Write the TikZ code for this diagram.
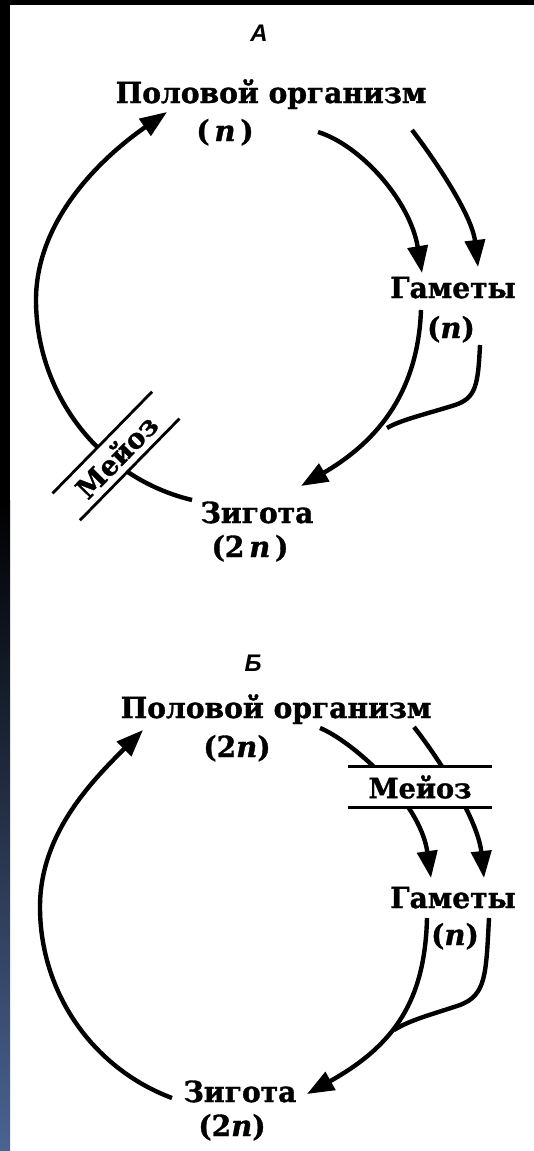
\documentclass[tikz,border=0pt]{standalone}
\usepackage{fontspec}
\setmainfont{DejaVu Serif}[BoldFeatures={FakeBold=1.2,FakeStretch=0.97},BoldItalicFeatures={FakeBold=1.2}]
\newfontfamily\lblfont{Liberation Sans}
\usetikzlibrary{arrows.meta}
\definecolor{edgeblue}{RGB}{74,99,146}
\tikzset{
  txt/.style={font=\bfseries\fontsize{29}{32}\selectfont, inner sep=0pt},
  lbl/.style={font=\lblfont\bfseries\itshape\fontsize{24}{26}\selectfont, inner sep=0pt},
  conn/.style={line width=4.4pt},
  arr/.style={conn, -{Triangle[length=27pt,width=20pt]}},
  bandbox/.style={fill=white, inner sep=0pt, minimum width=142pt, minimum height=38pt,
    font=\bfseries\fontsize{28}{30}\selectfont},
  bandline/.style={line width=2.8pt},
}
\begin{document}
\begin{tikzpicture}[x=1pt,y=-1pt]
\useasboundingbox (0,0) rectangle (534,1151);
\fill[white] (0,0) rectangle (534,1151);
\fill[black] (0,0) rectangle (534,5);
\fill[black] (0,0) rectangle (10,500);
\shade[top color=black,bottom color=edgeblue] (0,500) rectangle (10,1151);

% ---------- A ----------
\node[lbl] (labA) at (259,33.5) {А};
\node[txt, anchor=base] (orgA) at (271,103) {Половой организм};
\node[txt, anchor=base] (plA) at (225,141) {(\,\textit{n}\,)};
\node[txt, anchor=base] (gamA) at (453,298) {Гаметы};
\node[txt, anchor=base] (gnA) at (451,338) {(\textit{n})};
\node[txt, anchor=base] (zigA) at (257,523) {Зигота};
\node[txt, anchor=base] (zpA) at (250,557) {(2\,\textit{n}\,)};

\coordinate (aZ) at (192,500);
\coordinate (aL) at (36,300);
\coordinate (aT) at (167,112);
\draw[arr] (aZ) .. controls (100,478) and (36,394) .. (aL)
                .. controls (36,222) and (98,160) .. (aT);

\coordinate (a1s) at (318,132);
\coordinate (a1e) at (422,273);
\draw[arr] (a1s) .. controls (360,145) and (410,200) .. (a1e);
\coordinate (a2s) at (412,130);
\coordinate (a2e) at (478,267);
\draw[arr] (a2s) .. controls (435,160) and (472,215) .. (a2e);

\coordinate (gAl) at (421,310);
\coordinate (gAr) at (480,345);
\coordinate (mA) at (387,428);
\coordinate (zAt) at (301,486);
\draw[arr] (gAl) .. controls (418,390) and (380,440) .. (zAt);
\draw[conn] (gAr) .. controls (478,385) and (476,398) .. (455,405)
                 .. controls (430,413) and (400,420) .. (mA);

\node[bandbox, rotate=45.6] (meiA) at (116,456) {Мейоз};
\draw[bandline] (meiA.north west) -- (meiA.north east);
\draw[bandline] (meiA.south west) -- (meiA.south east);

% ---------- B ----------
\node[lbl] (labB) at (253,663) {Б};
\node[txt, anchor=base] (orgB) at (276,718) {Половой организм};
\node[txt, anchor=base] (plB) at (237,757) {(2\textit{n})};
\node[txt, anchor=base] (gamB) at (453,908) {Гаметы};
\node[txt, anchor=base] (gnB) at (455,945) {(\textit{n})};
\node[txt, anchor=base] (zigB) at (240,1102) {Зигота};
\node[txt, anchor=base] (zpB) at (232,1136) {(2\textit{n})};

\coordinate (bZ) at (172,1098);
\coordinate (bL) at (40,907);
\coordinate (bT) at (143,730);
\draw[arr] (bZ) .. controls (92,1068) and (40,992) .. (bL)
                .. controls (40,834) and (91,782) .. (bT);

\coordinate (b1s) at (320,728);
\coordinate (b1e) at (431,878);
\draw[arr] (b1s) .. controls (350,740) and (420,800) .. (b1e);
\coordinate (b2s) at (414,727);
\coordinate (b2e) at (484,878);
\draw[arr] (b2s) .. controls (440,760) and (478,820) .. (b2e);

\node[bandbox, minimum width=144pt, minimum height=40pt] (meiB) at (420,787) {Мейоз};
\draw[bandline] (meiB.north west) -- (meiB.north east);
\draw[bandline] (meiB.south west) -- (meiB.south east);

\coordinate (gBl) at (427,918);
\coordinate (gBr) at (489,918);
\coordinate (mB) at (394,1030);
\coordinate (zBt) at (307,1094);
\draw[arr] (gBl) .. controls (425,1000) and (395,1045) .. (zBt);
\draw[conn] (gBr) .. controls (486,975) and (486,995) .. (460,1005)
                 .. controls (430,1015) and (410,1020) .. (mB);
\end{tikzpicture}
\end{document}
